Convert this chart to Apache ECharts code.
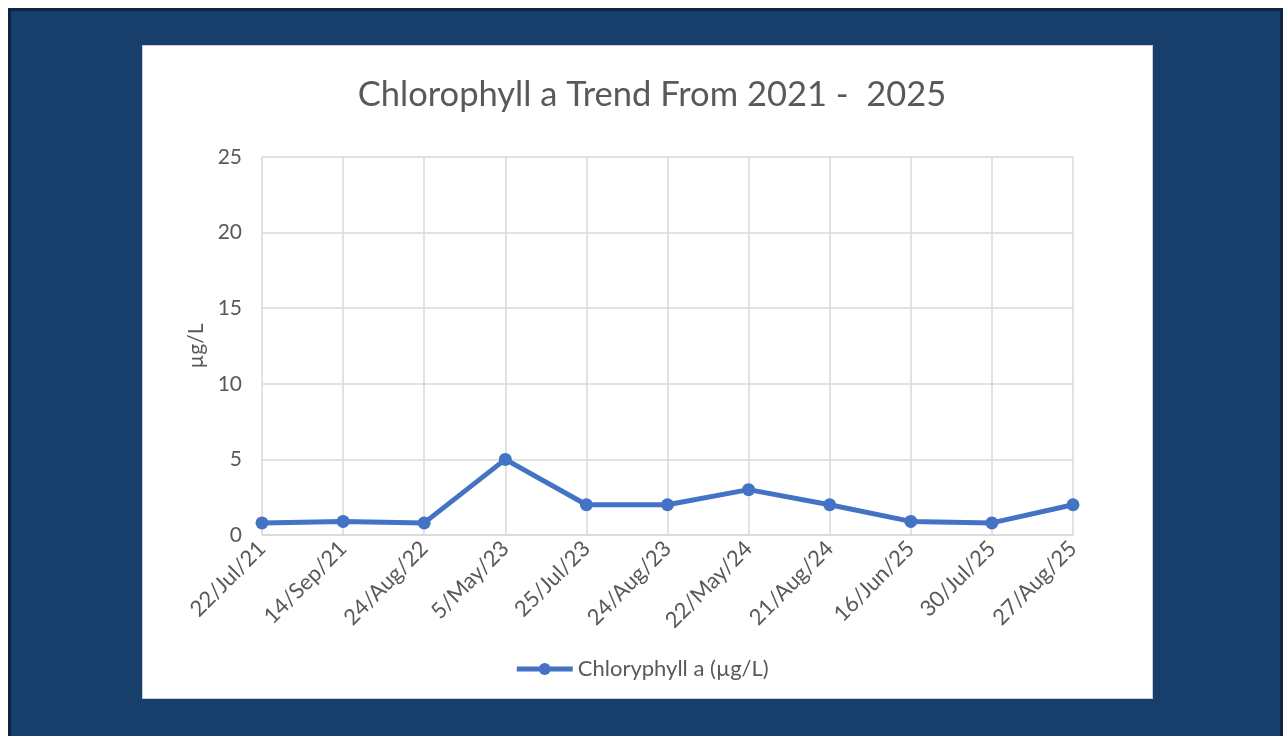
<!DOCTYPE html>
<html>
<head>
<meta charset="utf-8">
<script src="https://cdn.jsdelivr.net/npm/echarts@6/dist/echarts.min.js"></script>
<style>
  html, body { margin: 0; padding: 0; background: #ffffff; }
  #chart { width: 1283px; height: 736px; }
</style>
</head>
<body>
<div id="chart"></div>
<script>
// Sampling dates and measured chlorophyll a concentrations
const sampleDates = ['22/Jul/21', '14/Sep/21', '24/Aug/22', '5/May/23', '25/Jul/23', '24/Aug/23',
                     '22/May/24', '21/Aug/24', '16/Jun/25', '30/Jul/25', '27/Aug/25'];
const chlorophyllA = [0.8, 0.9, 0.8, 5.0, 2.0, 2.0, 3.0, 2.0, 0.9, 0.8, 2.0];
const seriesName = 'Chloryphyll a (µg/L)';

const FONT = 'Lato, "Open Sans", sans-serif';
const TEXT = '#595959';
const GRID = '#d9d9d9';
const BLUE = '#4472c4';

const chart = echarts.init(document.getElementById('chart'));
chart.setOption({
  backgroundColor: '#ffffff',
  animation: false,
  graphic: [
    // slide frame
    { type: 'rect', z: -10, shape: { x: 8, y: 8, width: 1275, height: 728 }, style: { fill: '#0e2442' } },
    { type: 'rect', z: -9, shape: { x: 11, y: 11, width: 1269, height: 725 }, style: { fill: '#183f6b' } },
    // chart card
    { type: 'rect', z: -8, shape: { x: 142, y: 45, width: 1011, height: 654 }, style: { fill: '#c8ccd4' } },
    { type: 'rect', z: -7, shape: { x: 143, y: 46, width: 1009, height: 652 }, style: { fill: '#ffffff' } }
  ],
  title: {
    text: 'Chlorophyll a Trend From 2021 -  2025',
    left: 647, top: 72, textAlign: 'center',
    textStyle: { fontFamily: FONT, fontSize: 34.5, fontWeight: 'normal', color: TEXT }
  },
  legend: {
    data: [seriesName],
    left: 646, top: 653,
    itemWidth: 56, itemHeight: 15, itemGap: 4,
    lineStyle: { width: 5 },
    textStyle: { fontFamily: FONT, fontSize: 22, color: TEXT }
  },
  grid: { left: 262, right: 210, top: 157, bottom: 201, containLabel: false },
  xAxis: {
    type: 'category',
    data: sampleDates,
    boundaryGap: false,
    axisLine: { show: true, lineStyle: { color: GRID, width: 1.5 } },
    axisTick: { show: false },
    splitLine: { show: true, lineStyle: { color: GRID, width: 1.5 } },
    axisLabel: { rotate: 45, margin: 10, interval: 0, fontFamily: FONT, fontSize: 22, color: TEXT }
  },
  yAxis: {
    type: 'value',
    min: 0, max: 25, interval: 5,
    name: 'µg/L',
    nameLocation: 'middle', nameRotate: 90, nameGap: 55,
    nameTextStyle: { fontFamily: FONT, fontSize: 21, color: TEXT },
    axisLine: { show: false },
    axisTick: { show: false },
    splitLine: { show: true, lineStyle: { color: GRID, width: 1.5 } },
    axisLabel: { margin: 20, fontFamily: FONT, fontSize: 21, color: TEXT }
  },
  series: [{
    name: seriesName,
    type: 'line',
    data: chlorophyllA,
    symbol: 'circle',
    symbolSize: 13,
    lineStyle: { color: BLUE, width: 5 },
    itemStyle: { color: BLUE }
  }]
});
// centre the legend block on the plot's horizontal middle
chart.setOption({ legend: { left: 'center' } });
</script>
</body>
</html>
